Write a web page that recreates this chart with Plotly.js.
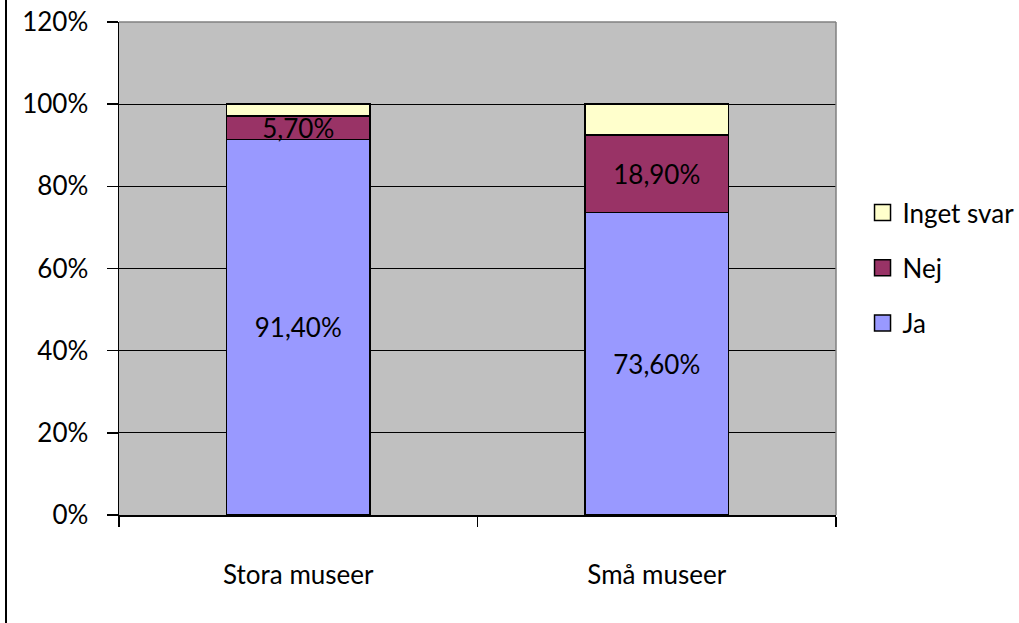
<!DOCTYPE html>
<html>
<head>
<meta charset="utf-8">
<script src="https://cdn.plot.ly/plotly-3.0.1.min.js"></script>
<style>
  html, body { margin: 0; padding: 0; background: #fff; }
  #plot { width: 1019px; height: 623px; }
</style>
</head>
<body>
<div id="plot"></div>
<script>
// Chart data
const categories = ['Stora museer', 'Små museer'];
const ja = [91.4, 73.6];
const nej = [5.7, 18.9];
const ingetSvar = [2.9, 7.5];
const yTicks = [0, 20, 40, 60, 80, 100, 120];

// Swedish style labels: 91,40%
const fmt = v => v.toFixed(2).replace('.', ',') + '%';

const fontFamily = 'Lato, "DejaVu Sans", sans-serif';
const fontSize = 26;
const colors = { ja: '#9999ff', nej: '#993366', inget: '#ffffcc' };

const barLine = { color: 'black', width: 1.5 };

const traces = [
    {
        x: categories, y: ja, name: 'Ja', type: 'bar',
        marker: { color: colors.ja, line: barLine },
        text: ja.map(fmt), textposition: 'inside', insidetextanchor: 'middle',
        textfont: { color: 'black', size: fontSize, family: fontFamily },
        constraintext: 'none', hoverinfo: 'skip', showlegend: false
    },
    {
        x: categories, y: nej, name: 'Nej', type: 'bar',
        marker: { color: colors.nej, line: barLine },
        text: nej.map(fmt), textposition: 'inside', insidetextanchor: 'middle',
        textfont: { color: 'black', size: fontSize, family: fontFamily },
        constraintext: 'none', hoverinfo: 'skip', showlegend: false
    },
    {
        x: categories, y: ingetSvar, name: 'Inget svar', type: 'bar',
        marker: { color: colors.inget, line: barLine },
        textposition: 'none', hoverinfo: 'skip', showlegend: false
    }
];

// Legend-only entries so the swatches can be drawn as larger squares (top to bottom)
[['Inget svar', colors.inget], ['Nej', colors.nej], ['Ja', colors.ja]].forEach(([name, c]) => {
    traces.push({
        x: [null], y: [null], type: 'scatter', mode: 'markers', name: name,
        legendgroup: name,
        marker: { symbol: 'square', size: 19, color: c, line: { color: 'black', width: 1.5 } },
        hoverinfo: 'skip'
    });
});

const layout = {
    width: 1019,
    height: 623,
    barmode: 'stack',
    bargap: 0.6,
    paper_bgcolor: 'white',
    plot_bgcolor: '#c0c0c0',
    font: { family: fontFamily, color: 'black', size: fontSize },
    margin: { l: 119, r: 183, t: 22, b: 108, pad: 0, autoexpand: false },
    showlegend: true,
    legend: {
        x: 1.037, xanchor: 'left',
        y: 0.501, yanchor: 'middle',
        traceorder: 'grouped',
        tracegroupgap: 18.5,
        font: { size: fontSize, family: fontFamily },
        bgcolor: 'rgba(0,0,0,0)'
    },
    xaxis: {
        type: 'category',
        showline: true, linecolor: 'black', linewidth: 1.5,
        ticks: 'outside', ticklen: 10, tickcolor: 'black', tickwidth: 1.5,
        tickson: 'boundaries',
        ticklabelstandoff: 36,
        showgrid: false,
        fixedrange: true
    },
    yaxis: {
        range: [0, 120],
        tickvals: yTicks,
        ticktext: yTicks.map(v => v + '%'),
        showline: true, linecolor: 'black', linewidth: 1.5,
        ticks: 'outside', ticklen: 11, tickcolor: 'black', tickwidth: 1.5,
        ticklabelstandoff: 13,
        showgrid: true, gridcolor: 'black', gridwidth: 1,
        zeroline: false,
        fixedrange: true
    },
    shapes: [
        // gray top and right edges of the plot area
        { type: 'line', xref: 'paper', yref: 'paper', x0: 0, x1: 1, y0: 1, y1: 1,
          line: { color: '#808080', width: 1.5 } },
        { type: 'line', xref: 'paper', yref: 'paper', x0: 1, x1: 1, y0: 0, y1: 1,
          line: { color: '#808080', width: 1.5 } },
        // outer chart border on the left
        { type: 'line', xref: 'paper', yref: 'paper', x0: -0.1576, x1: -0.1576, y0: -0.22, y1: 1.05,
          line: { color: 'black', width: 2 } }
    ]
};

const config = { displayModeBar: false, responsive: false, staticPlot: true };

Plotly.newPlot('plot', traces, layout, config);
</script>
</body>
</html>
